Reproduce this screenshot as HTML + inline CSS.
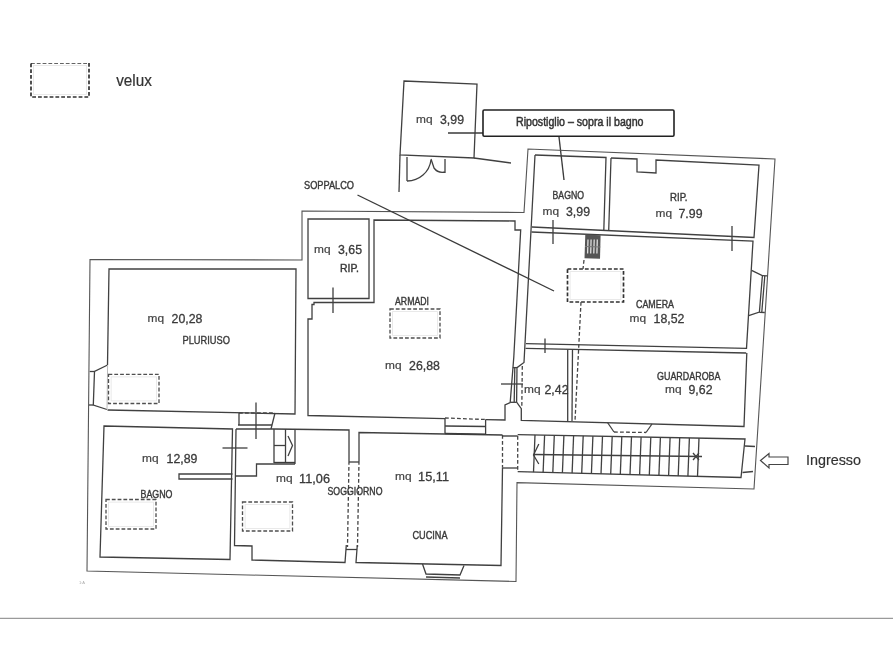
<!DOCTYPE html>
<html><head><meta charset="utf-8"><title>Planimetria</title>
<style>
html,body{margin:0;padding:0;background:#fff;}
body{width:893px;height:670px;overflow:hidden;font-family:"Liberation Sans",sans-serif;}
svg{display:block;}
.l{stroke:#404040;stroke-width:1.3;fill:none;stroke-linejoin:miter;stroke-linecap:butt;}
.k{stroke:#3a3a3a;stroke-width:1.35;fill:none;}
.kk{stroke:#222;stroke-width:2.2;fill:none;}
.d{stroke:#505050;stroke-width:1.35;fill:none;stroke-dasharray:3.8 2;}
.o{stroke:#555;stroke-width:1.1;fill:none;}
.f2{stroke:#e4e4e4;stroke-width:0.8;fill:none;}
.dk{stroke:#333;stroke-width:1.7;fill:none;stroke-dasharray:3.8 2;}
.f{stroke:#bbb;stroke-width:1;fill:none;}
.d2{stroke:#454545;stroke-width:1.3;fill:none;stroke-dasharray:3.8 2.2;}
.b{stroke:#222;stroke-width:1.6;fill:#fff;}
.b2{stroke:#444;stroke-width:1.2;fill:#fff;}
text{font-family:"Liberation Sans",sans-serif;}
.tl{fill:#3a3a3a;stroke:#3a3a3a;stroke-width:0.4;}
.tm{fill:#444;stroke:#444;stroke-width:0.2;}
.tn{fill:#3a3a3a;stroke:#3a3a3a;stroke-width:0.3;}
.u{fill:#333;stroke:#333;stroke-width:0.2;}
.lb{fill:#333;stroke:#333;stroke-width:0.5;}
</style></head><body>
<svg width="893" height="670" viewBox="0 0 893 670">
<defs><filter id="bl" x="0" y="0" width="100%" height="100%"><feGaussianBlur stdDeviation="0.55"/></filter></defs>
<rect width="893" height="670" fill="#fff"/>
<g id="plan" filter="url(#bl)">
<rect class="f2" x="33.6" y="65.6" width="52.8" height="28.8"/>
<rect class="dk" x="31" y="63" width="58" height="34"/>
<text class="u" x="116.2" y="86.4" font-size="16" textLength="35.6" lengthAdjust="spacingAndGlyphs">velux</text>
<path class="l" d="M404,81 L477,84 L474,158 L400,155 Z" />
<line class="l" x1="400" y1="155" x2="399" y2="192" />
<line class="l" x1="407" y1="157" x2="407" y2="181" />
<path class="l" d="M407,181 A24,24 0 0 0 431,160" />
<path class="l" d="M431,159 L434,168 Q438,173.5 445,172 M445,159 L445,173" />
<line class="l" x1="474" y1="158" x2="511" y2="163" />
<text class="tm" x="416" y="122.9" font-size="10.8" textLength="16.5" lengthAdjust="spacingAndGlyphs">mq</text>
<text class="tn" x="440.0" y="123.7" font-size="12.4" textLength="24.0" lengthAdjust="spacingAndGlyphs">3,99</text>
<line class="k" x1="448" y1="133" x2="483" y2="133" />
<rect class="b" x="483" y="110" width="191" height="26.3" rx="1.2"/>
<text class="lb" x="516" y="126.2" font-size="12.3" textLength="127.5" lengthAdjust="spacingAndGlyphs">Ripostiglio – sopra il bagno</text>
<line class="k" x1="559" y1="137" x2="564" y2="180" />
<path class="o" d="M87,571 L90,259.5 L302,260 L302,211 L524,212.5 L528,149 L775,159 L754,489 L517,482.6 L516,581.5 Z" />
<path class="l" d="M308,219 L369,219 L369,298.5 L308,298.5 Z" />
<path class="l" d="M445,418.6 L308,415.5 L308,319 L312,319 L312,304.5 L314,304.5 L314,302.5 L374,302.5 L374,220 L515,221 L515,230 L520.7,230 L513.8,357 L510.2,402.5 L505,405 L505,420 L485.6,419.6" />
<line class="l" x1="333" y1="287.5" x2="333" y2="313" />
<text class="tl" x="304" y="188.8" font-size="10.4" textLength="50" lengthAdjust="spacingAndGlyphs">SOPPALCO</text>
<line class="k" x1="357.5" y1="195" x2="554" y2="291" />
<text class="tm" x="314" y="253.4" font-size="10.8" textLength="16.5" lengthAdjust="spacingAndGlyphs">mq</text>
<text class="tn" x="338.0" y="254.2" font-size="12.4" textLength="24.0" lengthAdjust="spacingAndGlyphs">3,65</text>
<text class="tl" x="340" y="271.8" font-size="10.4" textLength="19" lengthAdjust="spacingAndGlyphs">RIP.</text>
<text class="tl" x="395" y="304.8" font-size="10.4" textLength="34" lengthAdjust="spacingAndGlyphs">ARMADI</text>
<rect class="f2" x="392.6" y="311.6" width="44.8" height="23.8"/>
<rect class="d" x="390" y="309" width="50" height="29"/>
<text class="tm" x="385" y="368.9" font-size="10.8" textLength="16.5" lengthAdjust="spacingAndGlyphs">mq</text>
<text class="tn" x="409.1" y="369.7" font-size="12.4" textLength="30.9" lengthAdjust="spacingAndGlyphs">26,88</text>
<path class="l" d="M107.5,365 L109,269 L296,269 L295,414 L107.5,410" />
<path class="l" d="M107.6,365 L94.5,371.5 L93.3,405 L107,409.5" />
<line class="l" x1="89.7" y1="371.5" x2="94.5" y2="371.5" />
<line class="l" x1="89" y1="405" x2="93.3" y2="405" />
<line class="f" x1="107.6" y1="365" x2="107" y2="409.5" />
<text class="tm" x="147.5" y="321.9" font-size="10.8" textLength="16.5" lengthAdjust="spacingAndGlyphs">mq</text>
<text class="tn" x="171.6" y="322.7" font-size="12.4" textLength="30.9" lengthAdjust="spacingAndGlyphs">20,28</text>
<text class="tl" x="182.5" y="343.5" font-size="11.6" textLength="47.5" lengthAdjust="spacingAndGlyphs">PLURIUSO</text>
<rect class="f2" x="111.1" y="376.90000000000003" width="45.3" height="23.99999999999999"/>
<rect class="d" x="108.5" y="374.3" width="50.5" height="29.19999999999999"/>
<path class="l" d="M104,426 L232.5,429 L230,559.5 L100,557 Z" />
<path class="l" d="M232.5,474 L179,474 L179,479 L232.5,479" />
<text class="tm" x="142" y="461.9" font-size="10.8" textLength="16.5" lengthAdjust="spacingAndGlyphs">mq</text>
<text class="tn" x="166.6" y="462.7" font-size="12.4" textLength="30.9" lengthAdjust="spacingAndGlyphs">12,89</text>
<text class="tl" x="140.5" y="497.8" font-size="10.4" textLength="32.0" lengthAdjust="spacingAndGlyphs">BAGNO</text>
<rect class="f2" x="108.6" y="502.1" width="44.8" height="24.3"/>
<rect class="d" x="106" y="499.5" width="50" height="29.5"/>
<line class="l" x1="222.5" y1="448" x2="247.5" y2="448" />
<path class="l" d="M236,429 L234.5,545.5 L252,546 L252,560 L345,562.5 L346.3,545" />
<path class="l" d="M236,476 L256.5,476 L256.5,464 L295,464" />
<path class="l" d="M274,429 L349,430 L349,461" />
<line class="d2" x1="349" y1="461" x2="347.5" y2="547" />
<line class="l" x1="346" y1="549.5" x2="357" y2="549.5" />
<line class="l" x1="349" y1="462" x2="359" y2="462" />
<line class="d2" x1="239" y1="413" x2="275" y2="413" />
<path class="l" d="M239,413 L239,425" />
<line class="l" x1="238" y1="425" x2="272" y2="425" />
<line class="l" x1="236" y1="429" x2="274" y2="429" />
<line class="l" x1="275" y1="413" x2="271" y2="429" />
<line class="l" x1="256" y1="402.5" x2="256" y2="439" />
<path class="l" d="M274,429 L274,463" />
<line class="l" x1="285.5" y1="429" x2="285.5" y2="463" />
<line class="l" x1="295" y1="429" x2="295" y2="464" />
<line class="l" x1="274" y1="445.5" x2="285.5" y2="445.5" />
<line class="k" x1="274" y1="462.5" x2="295" y2="462.5" />
<path class="l" d="M288,436 L292.5,445.5 L288,456" />
<text class="tm" x="276" y="481.9" font-size="10.8" textLength="16.5" lengthAdjust="spacingAndGlyphs">mq</text>
<text class="tn" x="299.1" y="482.7" font-size="12.4" textLength="30.9" lengthAdjust="spacingAndGlyphs">11,06</text>
<text class="tl" x="327.5" y="494.8" font-size="10.4" textLength="55.0" lengthAdjust="spacingAndGlyphs">SOGGIORNO</text>
<rect class="f2" x="245.1" y="504.6" width="44.8" height="23.8"/>
<rect class="d" x="242.5" y="502" width="50.0" height="29"/>
<path class="l" d="M359,461 L359,432.5 L502.5,435" />
<line class="d2" x1="359" y1="461" x2="357.5" y2="547" />
<path class="l" d="M357.3,545 L356,562.5 L501,565.5 L502.5,467.5" />
<line class="d2" x1="502.5" y1="435" x2="502.5" y2="467.5" />
<path class="l" d="M422.5,564 L426,574 L460,575 L464,565.5" />
<line class="l" x1="426" y1="577" x2="460" y2="578" />
<text class="tm" x="395" y="480.4" font-size="10.8" textLength="16.5" lengthAdjust="spacingAndGlyphs">mq</text>
<text class="tn" x="418.1" y="481.2" font-size="12.4" textLength="30.9" lengthAdjust="spacingAndGlyphs">15,11</text>
<text class="tl" x="412.5" y="538.8" font-size="10.4" textLength="35.0" lengthAdjust="spacingAndGlyphs">CUCINA</text>
<line class="d2" x1="445" y1="418" x2="485.6" y2="419.5" />
<path class="l" d="M445,418 L445,433.7" />
<path class="l" d="M485.6,419.5 L485.6,434" />
<line class="l" x1="445" y1="426" x2="485.6" y2="426.5" />
<line class="k" x1="445" y1="433.5" x2="485.6" y2="434.2" />
<line class="k" x1="502.5" y1="436" x2="517.7" y2="436" />
<line class="l" x1="502.5" y1="468" x2="517.7" y2="468" />
<line class="d2" x1="517.7" y1="436" x2="517.7" y2="471.5" />
<path class="l" d="M535,155 L524,362.5 L517,367.6 L516.6,402 L521.3,408.7 L521.3,420.3 L744,426.5 L746.8,353" />
<line class="l" x1="512.8" y1="367.6" x2="517" y2="367.6" />
<line class="l" x1="514.8" y1="367.6" x2="514.2" y2="402" />
<line class="l" x1="510.5" y1="402.3" x2="516.6" y2="402.3" />
<line class="d2" x1="522.3" y1="366" x2="521.8" y2="408" />
<line class="l" x1="501" y1="384" x2="523" y2="384" />
<path class="l" d="M535,155 L606,157.5 L603.8,230.5" />
<path class="l" d="M611,158 L637,159 L637,172 L656,173 L656,160 L759,165 L754,237.5 L532,227" />
<line class="l" x1="611" y1="158" x2="608.7" y2="231" />
<path class="l" d="M531.5,232 L753,241 L746.5,348.4 L526,343.7" />
<path class="l" d="M525.5,348.4 L746.2,353" />
<line class="l" x1="553" y1="220" x2="553" y2="244" />
<line class="l" x1="732" y1="226" x2="732" y2="251" />
<line class="l" x1="545" y1="338.5" x2="545" y2="353" />
<line class="l" x1="567.7" y1="349.5" x2="567.7" y2="421" />
<line class="l" x1="572.5" y1="349.5" x2="572" y2="421" />
<text class="tl" x="552.5" y="199.3" font-size="10.4" textLength="31.5" lengthAdjust="spacingAndGlyphs">BAGNO</text>
<text class="tm" x="542.5" y="215.4" font-size="10.8" textLength="16.5" lengthAdjust="spacingAndGlyphs">mq</text>
<text class="tn" x="566.0" y="216.2" font-size="12.4" textLength="24.0" lengthAdjust="spacingAndGlyphs">3,99</text>
<text class="tl" x="670" y="200.8" font-size="10.4" textLength="17.5" lengthAdjust="spacingAndGlyphs">RIP.</text>
<text class="tm" x="655.5" y="216.9" font-size="10.8" textLength="16.5" lengthAdjust="spacingAndGlyphs">mq</text>
<text class="tn" x="678.5" y="217.7" font-size="12.4" textLength="24.0" lengthAdjust="spacingAndGlyphs">7.99</text>
<text class="tl" x="636" y="308.3" font-size="10.4" textLength="38" lengthAdjust="spacingAndGlyphs">CAMERA</text>
<text class="tm" x="629.5" y="322.4" font-size="10.8" textLength="16.5" lengthAdjust="spacingAndGlyphs">mq</text>
<text class="tn" x="653.6" y="323.2" font-size="12.4" textLength="30.9" lengthAdjust="spacingAndGlyphs">18,52</text>
<text class="tm" x="524" y="393.4" font-size="10.8" textLength="16.5" lengthAdjust="spacingAndGlyphs">mq</text>
<text class="tn" x="544.5" y="394.2" font-size="12.4" textLength="24.0" lengthAdjust="spacingAndGlyphs">2,42</text>
<text class="tl" x="657" y="379.8" font-size="10.4" textLength="63.5" lengthAdjust="spacingAndGlyphs">GUARDAROBA</text>
<text class="tm" x="665" y="393.4" font-size="10.8" textLength="16.5" lengthAdjust="spacingAndGlyphs">mq</text>
<text class="tn" x="688.5" y="394.2" font-size="12.4" textLength="24.0" lengthAdjust="spacingAndGlyphs">9,62</text>
<rect class="f2" x="570.1" y="271.6" width="50.8" height="27.8"/>
<rect class="dk" x="567.5" y="269" width="56.0" height="33"/>
<line class="d2" x1="584" y1="260" x2="583" y2="269" />
<line class="d2" x1="581" y1="302" x2="575" y2="421" />
<path d="M585.3,234.6 L600.6,235.2 L600,258.8 L584.5,258.2 Z" fill="#555"/>
<line x1="588.0" y1="239.5" x2="587.6" y2="253.5" stroke="#e0e0e0" stroke-width="1.3"/>
<line x1="591.1" y1="239.5" x2="590.7" y2="253.5" stroke="#e0e0e0" stroke-width="1.3"/>
<line x1="594.2" y1="239.5" x2="593.8000000000001" y2="253.5" stroke="#e0e0e0" stroke-width="1.3"/>
<line x1="597.3" y1="239.5" x2="596.9" y2="253.5" stroke="#e0e0e0" stroke-width="1.3"/>
<line x1="585" y1="246.5" x2="600.3" y2="247" stroke="#777" stroke-width="1"/>
<path class="l" d="M751.6,270.3 L762.4,275.7 L759.4,312 L748.7,315.7" />
<line class="l" x1="762.4" y1="275.7" x2="767.3" y2="275.9" />
<line class="l" x1="764.8" y1="276" x2="761.8" y2="312" />
<line class="l" x1="759.4" y1="312.3" x2="764.8" y2="312.5" />
<path class="l" d="M607.5,422.5 L614,432" />
<line class="d2" x1="614" y1="432" x2="646" y2="432.5" />
<path class="l" d="M646,432.5 L652,424" />
<path class="l" d="M517.7,434.6 L745,439 L741,477.5 L517.7,471.7" />
<line class="l" x1="535.0" y1="434.9" x2="533.5" y2="472.1" />
<line class="l" x1="544.6" y1="435.1" x2="543.1" y2="472.4" />
<line class="l" x1="554.3" y1="435.3" x2="552.8" y2="472.6" />
<line class="l" x1="563.9" y1="435.5" x2="562.4" y2="472.9" />
<line class="l" x1="573.6" y1="435.7" x2="572.1" y2="473.1" />
<line class="l" x1="583.2" y1="435.9" x2="581.7" y2="473.4" />
<line class="l" x1="592.9" y1="436.1" x2="591.4" y2="473.6" />
<line class="l" x1="602.5" y1="436.2" x2="601.0" y2="473.9" />
<line class="l" x1="612.2" y1="436.4" x2="610.7" y2="474.1" />
<line class="l" x1="621.8" y1="436.6" x2="620.3" y2="474.4" />
<line class="l" x1="631.5" y1="436.8" x2="630.0" y2="474.6" />
<line class="l" x1="641.1" y1="437.0" x2="639.6" y2="474.9" />
<line class="l" x1="650.8" y1="437.2" x2="649.3" y2="475.1" />
<line class="l" x1="660.4" y1="437.4" x2="658.9" y2="475.4" />
<line class="l" x1="670.1" y1="437.5" x2="668.6" y2="475.6" />
<line class="l" x1="679.7" y1="437.7" x2="678.2" y2="475.9" />
<line class="l" x1="689.4" y1="437.9" x2="687.9" y2="476.1" />
<line class="l" x1="699.0" y1="438.1" x2="697.5" y2="476.4" />
<line class="l" x1="534" y1="454.5" x2="702" y2="456.5" />
<path class="l" d="M538.8,444 L533.5,455 L538.8,464" />
<path class="l" d="M693,453 L699,460 M699,453 L693,460" />
<line class="l" x1="745" y1="446" x2="755" y2="446.5" />
<line class="l" x1="742.5" y1="472.5" x2="753" y2="471.5" />
<path class="b2" d="M760.5,460.5 L769,453.5 L769,457 L788,457 L788,464.5 L769,464.5 L769,468 Z" />
<text class="u" x="806" y="465.3" font-size="15" textLength="55" lengthAdjust="spacingAndGlyphs">Ingresso</text>
<line x1="0" y1="618.6" x2="893" y2="618.6" stroke="#9a9a9a" stroke-width="1.8"/>
<text x="79" y="584" font-size="4" fill="#aaa">1:A</text>
</g>
</svg>
</body></html>
